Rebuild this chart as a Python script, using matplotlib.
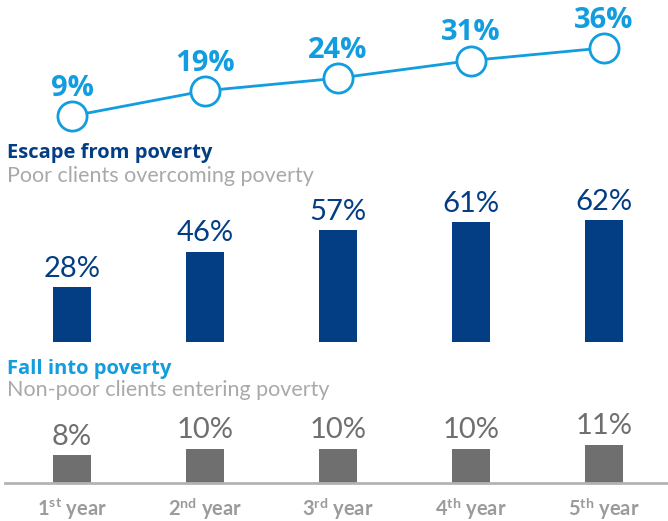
import matplotlib
matplotlib.use("Agg")
import matplotlib.pyplot as plt

plt.rcParams['font.family'] = ['Lato', 'DejaVu Sans']
plt.rcParams['mathtext.default'] = 'regular'

years = [r'1$^{st}$ year', r'2$^{nd}$ year', r'3$^{rd}$ year', r'4$^{th}$ year', r'5$^{th}$ year']
cumulative = [9, 19, 24, 31, 36]
escape = [28, 46, 57, 61, 62]
fall = [8, 10, 10, 10, 11]

LIGHT = '#119ddf'
DARK = '#033e84'
GRAYBAR = '#6f6f6f'
SUB = '#a9a9a9'
TICK = '#9b9b9b'

W, H = 668, 521
fig = plt.figure(figsize=(W / 100, H / 100), dpi=100)

def axes_px(top, bottom):
    return fig.add_axes([0, 1 - bottom / H, 1, (bottom - top) / H])

x = list(range(len(years)))
xlim = (-72 / 133, 596 / 133)

# line panel
ax1 = axes_px(0, 140)
ax1.plot(x, cumulative, color=LIGHT, lw=2, marker='o', ms=21, mfc='white', mec=LIGHT, mew=2, zorder=3)
for xi, v in zip(x, cumulative):
    ax1.annotate(f'{v}%', (xi, v), xytext=(0, 9.5), textcoords='offset points',
                 ha='center', va='bottom', fontsize=21, fontweight='bold', color=LIGHT,
                 family=['Open Sans', 'DejaVu Sans'])
ax1.set_xlim(*xlim)
ax1.set_ylim(-0.52, 55.0)
ax1.axis('off')

# escape bars
ax2 = axes_px(190, 342)
ax2.bar(x, escape, width=38 / 133, color=DARK)
for xi, v in zip(x, escape):
    ax2.annotate(f'{v}%', (xi, v), xytext=(0, 4), textcoords='offset points',
                 ha='center', va='bottom', fontsize=21, fontweight='normal', color=DARK)
ax2.set_xlim(*xlim)
ax2.set_ylim(0, 152 / 1.96)
ax2.axis('off')

# fall bars
ax3 = axes_px(400, 483)
ax3.bar(x, fall, width=38 / 133, color=GRAYBAR)
for xi, v in zip(x, fall):
    ax3.annotate(f'{v}%', (xi, v), xytext=(0, 4), textcoords='offset points',
                 ha='center', va='bottom', fontsize=21, fontweight='normal', color=GRAYBAR)
ax3.set_xlim(*xlim)
ax3.set_ylim(0, 83 / 3.45)
for s in ['top', 'left', 'right', 'bottom']:
    ax3.spines[s].set_visible(False)
ax3.axhline(0, xmin=5 / W, xmax=1, color='#b3b3b3', lw=2, clip_on=False)
ax3.set_yticks([])
ax3.set_xticks(x)
ax3.set_xticklabels(years, fontsize=14.5, fontweight='bold', color=TICK)
ax3.tick_params(axis='x', length=0, pad=9)

# section titles
fig.text(7 / W, 1 - 153 / H, 'Escape from poverty', fontsize=14.5, fontweight='bold', color=DARK,
         va='center', family=['Open Sans', 'DejaVu Sans'])
fig.text(7 / W, 1 - 176 / H, 'Poor clients overcoming poverty', fontsize=15.5, fontweight='normal',
         color=SUB, va='center')
fig.text(7 / W, 1 - 369 / H, 'Fall into poverty', fontsize=14.5, fontweight='bold', color=LIGHT,
         va='center', family=['Open Sans', 'DejaVu Sans'])
fig.text(7 / W, 1 - 390 / H, 'Non-poor clients entering poverty', fontsize=15.5, fontweight='normal',
         color=SUB, va='center')

fig.savefig('out.png', dpi=100)
